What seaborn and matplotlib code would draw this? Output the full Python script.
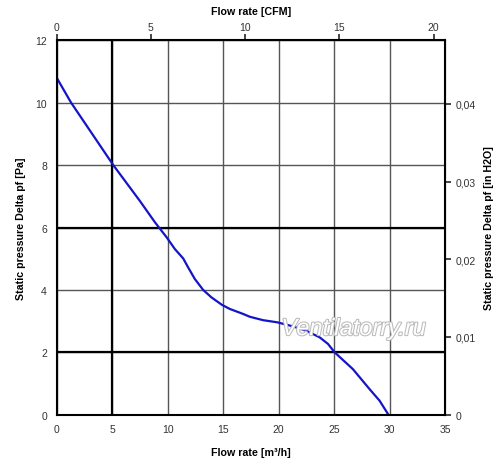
import numpy as np
import pandas as pd
import matplotlib
matplotlib.use("Agg")
import matplotlib.pyplot as plt
import matplotlib.patheffects as pe
import seaborn as sns

# Fan curve
flow_m3h = [0, 1.3, 5.1, 7.5, 8.85, 9.9, 10.65, 11.4, 11.85, 12.45, 13.2, 13.95, 14.9, 15.6,
            16.8, 17.4, 18.6, 19.9, 21.3, 22.5, 23.7, 24.45, 25.05, 26.7, 27.45, 28.2, 29.1, 29.9]
pressure_pa = [10.8, 10.0, 8.0, 6.85, 6.17, 5.69, 5.31, 5.01, 4.72, 4.35, 4.0, 3.76, 3.52, 3.39,
               3.23, 3.14, 3.03, 2.96, 2.83, 2.69, 2.48, 2.27, 2.0, 1.46, 1.14, 0.82, 0.45, 0.0]

x_ticks = [0, 5, 10, 15, 20, 25, 30, 35]
y_ticks = [0, 2, 4, 6, 8, 10, 12]
cfm_ticks = [0, 5, 10, 15, 20]
inh2o_ticks = [0, 0.01, 0.02, 0.03, 0.04]
heavy_x = [5]
heavy_y = [2, 6]

M3H_PER_CFM = 1.699
INH2O_PER_PA = 0.00401463

df = pd.DataFrame({"flow": flow_m3h, "pressure": pressure_pa})

sns.set_style("white")
plt.rcParams['font.family'] = ['Liberation Sans', 'DejaVu Sans']

fig = plt.figure(figsize=(5, 4.6), dpi=100)
ax = fig.add_axes([0.1134, 0.0963, 0.7766, 0.8139])

sns.lineplot(data=df, x="flow", y="pressure", ax=ax, color="#1414c8", linewidth=1.6)

ax.set_xlim(0, 35)
ax.set_ylim(0, 12)
ax.set_xticks(x_ticks)
ax.set_yticks(y_ticks)
ax.grid(True, color="#555555", linewidth=1.0)
for v in heavy_x:
    ax.axvline(v, color="black", linewidth=1.6, zorder=1)
for v in heavy_y:
    ax.axhline(v, color="black", linewidth=1.6, zorder=1)

for s in ax.spines.values():
    s.set_color("black")
    s.set_linewidth(1.5)

lab = dict(fontsize=7.7, fontweight="bold", color="black")
ax.tick_params(axis="both", direction="out", length=4, width=1.2, color="black",
               labelsize=7.5, labelcolor="#333333", pad=3)
ax.set_xlabel("Flow rate [m³/h]", labelpad=9, **lab)
ax.set_ylabel("Static pressure Delta pf [Pa]", labelpad=7, **lab)

top = ax.secondary_xaxis("top", functions=(lambda x: x / M3H_PER_CFM, lambda c: c * M3H_PER_CFM))
top.set_xticks(cfm_ticks)
top.tick_params(direction="out", length=4, width=1.2, labelsize=7.5, labelcolor="#333333", pad=2)
top.set_xlabel("Flow rate [CFM]", labelpad=6, **lab)

right = ax.secondary_yaxis("right", functions=(lambda p: p * INH2O_PER_PA, lambda h: h / INH2O_PER_PA))
right.set_yticks(inh2o_ticks)
right.set_yticklabels([("0" if t == 0 else f"{t:.2f}".replace(".", ",")) for t in inh2o_ticks])
right.tick_params(direction="out", length=4, width=1.2, labelsize=7.5, labelcolor="#333333")
right.set_ylabel("Static pressure Delta pf [in H2O]", labelpad=6, **lab)

ax.text(0.765, 0.23, "Ventilatorry.ru", transform=ax.transAxes, ha="center", va="center",
        fontsize=17, style="italic", color="white", zorder=3,
        path_effects=[pe.withStroke(linewidth=1.5, foreground="#bbbbbb")])

fig.savefig("out.png", dpi=100)
